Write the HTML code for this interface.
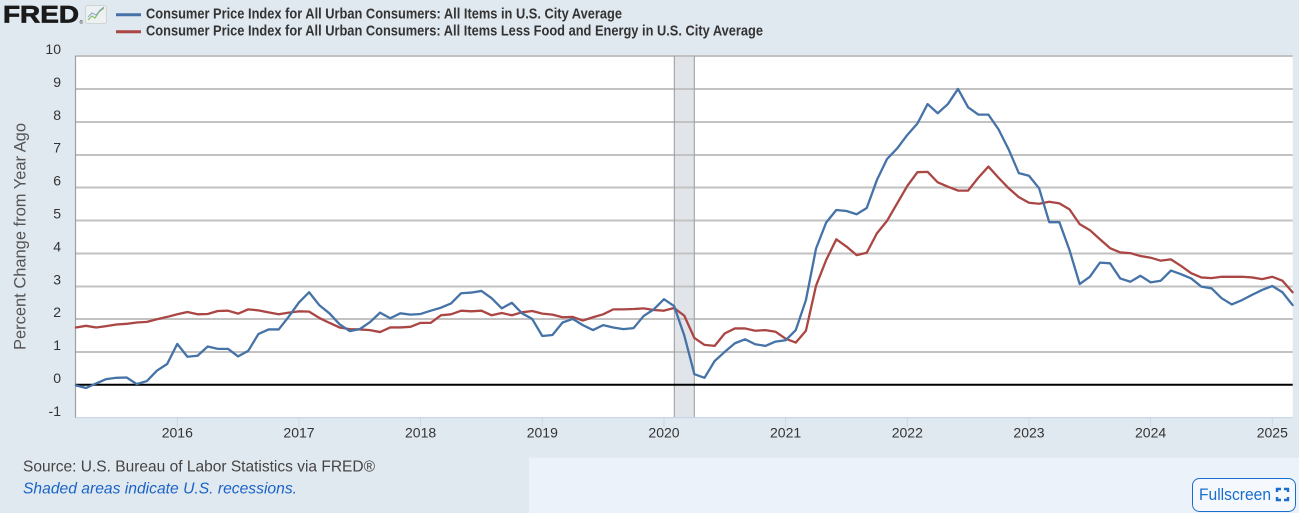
<!DOCTYPE html>
<html>
<head>
<meta charset="utf-8">
<style>
html,body{margin:0;padding:0;background:#e1e9f0;}
svg{display:block;}
</style>
</head>
<body>
<svg width="1299" height="513" viewBox="0 0 1299 513" xmlns="http://www.w3.org/2000/svg" font-family="'Liberation Sans', sans-serif">
  <rect x="0" y="0" width="1299" height="513" fill="#e1e9f0"/>
  <rect x="529" y="457.7" width="770" height="56" fill="#ebf2fa"/>

  <!-- plot background -->
  <rect x="75.5" y="55.7" width="1217.2" height="361.9" fill="#ffffff"/>

  <!-- recession shade -->
  <rect x="674.3" y="55.7" width="20" height="361.9" fill="#e1e5ea"/>

  <!-- gridlines -->
  <g stroke="#c2c2c2" stroke-width="1.9">
    <line x1="75.5" y1="56" x2="1292.7" y2="56"/>
    <line x1="75.5" y1="89" x2="1292.7" y2="89"/>
    <line x1="75.5" y1="122" x2="1292.7" y2="122"/>
    <line x1="75.5" y1="155" x2="1292.7" y2="155"/>
    <line x1="75.5" y1="187.5" x2="1292.7" y2="187.5"/>
    <line x1="75.5" y1="220.5" x2="1292.7" y2="220.5"/>
    <line x1="75.5" y1="253.5" x2="1292.7" y2="253.5"/>
    <line x1="75.5" y1="286.5" x2="1292.7" y2="286.5"/>
    <line x1="75.5" y1="319" x2="1292.7" y2="319"/>
    <line x1="75.5" y1="352" x2="1292.7" y2="352"/>
  </g>
  <line x1="674.3" y1="55.7" x2="674.3" y2="417.6" stroke="#9a9a9a" stroke-width="1"/>
  <line x1="694.3" y1="55.7" x2="694.3" y2="417.6" stroke="#9a9a9a" stroke-width="1"/>
  <line x1="75.5" y1="417.6" x2="1292.7" y2="417.6" stroke="#ccd6eb" stroke-width="1.2"/>
  <line x1="75.5" y1="55.7" x2="75.5" y2="417.6" stroke="#9aa0a6" stroke-width="1.2"/>

  <!-- zero line -->
  <line x1="75.5" y1="384.7" x2="1292.7" y2="384.7" stroke="#000" stroke-width="2"/>

  <!-- x ticks -->
  <g stroke="#ccd6eb" stroke-width="1">
    <line x1="177.3" y1="417.6" x2="177.3" y2="427"/>
    <line x1="299.0" y1="417.6" x2="299.0" y2="427"/>
    <line x1="420.6" y1="417.6" x2="420.6" y2="427"/>
    <line x1="542.3" y1="417.6" x2="542.3" y2="427"/>
    <line x1="664.0" y1="417.6" x2="664.0" y2="427"/>
    <line x1="785.6" y1="417.6" x2="785.6" y2="427"/>
    <line x1="907.3" y1="417.6" x2="907.3" y2="427"/>
    <line x1="1029.0" y1="417.6" x2="1029.0" y2="427"/>
    <line x1="1150.6" y1="417.6" x2="1150.6" y2="427"/>
    <line x1="1272.3" y1="417.6" x2="1272.3" y2="427"/>
  </g>

  <!-- series -->
  <g transform="matrix(10.139 0 0 -32.9 75.9 384.7)" fill="none" stroke-linejoin="round" stroke-linecap="round">
    <polyline vector-effect="non-scaling-stroke" stroke="#aa4643" stroke-width="2.3" points="0,1.74 1,1.79 2,1.74 3,1.78 4,1.83 5,1.85 6,1.89 7,1.91 8,1.99 9,2.06 10,2.14 11,2.21 12,2.14 13,2.15 14,2.24 15,2.25 16,2.16 17,2.29 18,2.26 19,2.2 20,2.14 21,2.19 22,2.23 23,2.22 24,2.03 25,1.88 26,1.74 27,1.69 28,1.68 29,1.66 30,1.6 31,1.74 32,1.74 33,1.76 34,1.88 35,1.88 36,2.11 37,2.14 38,2.25 39,2.23 40,2.25 41,2.11 42,2.18 43,2.11 44,2.2 45,2.24 46,2.16 47,2.13 48,2.05 49,2.06 50,1.95 51,2.05 52,2.14 53,2.29 54,2.29 55,2.3 56,2.32 57,2.27 58,2.25 59,2.33 60,2.1 61,1.42 62,1.21 63,1.18 64,1.56 65,1.71 66,1.71 67,1.64 68,1.66 69,1.61 70,1.4 71,1.28 72,1.64 73,3.01 74,3.79 75,4.42 76,4.2 77,3.94 78,4.01 79,4.6 80,4.98 81,5.51 82,6.04 83,6.46 84,6.47 85,6.15 86,6.02 87,5.9 88,5.9 89,6.29 90,6.63 91,6.29 92,5.97 93,5.7 94,5.53 95,5.5 96,5.56 97,5.51 98,5.33 99,4.88 100,4.7 101,4.42 102,4.15 103,4.02 104,4.0 105,3.91 106,3.86 107,3.77 108,3.81 109,3.61 110,3.39 111,3.26 112,3.24 113,3.28 114,3.28 115,3.28 116,3.26 117,3.21 118,3.28 119,3.16 120,2.81"/>
    <polyline vector-effect="non-scaling-stroke" stroke="#4572a7" stroke-width="2.3" points="0,-0.02 1,-0.1 2,0.04 3,0.17 4,0.21 5,0.22 6,0.02 7,0.11 8,0.43 9,0.63 10,1.24 11,0.85 12,0.88 13,1.16 14,1.09 15,1.09 16,0.86 17,1.03 18,1.54 19,1.68 20,1.68 21,2.07 22,2.5 23,2.81 24,2.42 25,2.17 26,1.84 27,1.63 28,1.69 29,1.9 30,2.19 31,2.02 32,2.17 33,2.13 34,2.15 35,2.25 36,2.34 37,2.47 38,2.78 39,2.8 40,2.85 41,2.63 42,2.32 43,2.49 44,2.17 45,2.0 46,1.48 47,1.51 48,1.89 49,2.0 50,1.81 51,1.66 52,1.81 53,1.74 54,1.69 55,1.72 56,2.09 57,2.29 58,2.6 59,2.39 60,1.5 61,0.32 62,0.21 63,0.72 64,1.0 65,1.26 66,1.38 67,1.23 68,1.18 69,1.31 70,1.35 71,1.66 72,2.57 73,4.14 74,4.93 75,5.31 76,5.28 77,5.18 78,5.37 79,6.22 80,6.86 81,7.18 82,7.59 83,7.94 84,8.53 85,8.25 86,8.53 87,8.99 88,8.43 89,8.21 90,8.21 91,7.76 92,7.15 93,6.43 94,6.35 95,5.97 96,4.94 97,4.94 98,4.09 99,3.06 100,3.28 101,3.71 102,3.69 103,3.23 104,3.13 105,3.31 106,3.11 107,3.16 108,3.47 109,3.36 110,3.23 111,2.98 112,2.93 113,2.63 114,2.44 115,2.57 116,2.73 117,2.88 118,3.0 119,2.81 120,2.42"/>
  </g>

  <!-- y labels -->
  <g font-size="14" fill="#333" text-anchor="end">
    <text x="61" y="54">10</text>
    <text x="61" y="86.9">9</text>
    <text x="61" y="119.8">8</text>
    <text x="61" y="152.7">7</text>
    <text x="61" y="185.6">6</text>
    <text x="61" y="218.5">5</text>
    <text x="61" y="251.4">4</text>
    <text x="61" y="284.3">3</text>
    <text x="61" y="317.2">2</text>
    <text x="61" y="350.1">1</text>
    <text x="61" y="383">0</text>
    <text x="61" y="415.9">-1</text>
  </g>

  <!-- x labels -->
  <g font-size="14" fill="#333" text-anchor="middle">
    <text x="177.3" y="437.7">2016</text>
    <text x="299.0" y="437.7">2017</text>
    <text x="420.6" y="437.7">2018</text>
    <text x="542.3" y="437.7">2019</text>
    <text x="664.0" y="437.7">2020</text>
    <text x="785.6" y="437.7">2021</text>
    <text x="907.3" y="437.7">2022</text>
    <text x="1029.0" y="437.7">2023</text>
    <text x="1150.6" y="437.7">2024</text>
    <text x="1272.3" y="437.7">2025</text>
  </g>

  <!-- y axis title -->
  <text transform="translate(25.5,236.5) rotate(-90)" text-anchor="middle" font-size="17" fill="#555" textLength="227" lengthAdjust="spacingAndGlyphs">Percent Change from Year Ago</text>

  <!-- FRED logo -->
  <text x="3" y="22.7" font-size="24.5" font-weight="bold" fill="#1a1a1a" stroke="#1a1a1a" stroke-width="0.7" textLength="76" lengthAdjust="spacingAndGlyphs">FRED</text>
  <text x="79.5" y="24" font-size="5" fill="#333">®</text>
  <rect x="85.5" y="5.5" width="21" height="18" rx="2" fill="#eef1f2" stroke="#cfd4d6" stroke-width="1"/>
  <polyline points="88,20 92,16 95,18 99,12 104,8" fill="none" stroke="#8bbf6a" stroke-width="1.2"/>
  <polyline points="88,17 92,13 96,15 100,10 104,7" fill="none" stroke="#8aa6c8" stroke-width="1"/>

  <!-- legend -->
  <line x1="116" y1="14.7" x2="141" y2="14.7" stroke="#4572a7" stroke-width="3"/>
  <line x1="116" y1="31.7" x2="141" y2="31.7" stroke="#aa4643" stroke-width="3"/>
  <text x="146" y="18.5" font-size="15" font-weight="bold" fill="#333" textLength="476" lengthAdjust="spacingAndGlyphs">Consumer Price Index for All Urban Consumers: All Items in U.S. City Average</text>
  <text x="146" y="35.5" font-size="15" font-weight="bold" fill="#333" textLength="617" lengthAdjust="spacingAndGlyphs">Consumer Price Index for All Urban Consumers: All Items Less Food and Energy in U.S. City Average</text>

  <!-- source notes -->
  <text x="23" y="471.7" font-size="16" fill="#444" textLength="352" lengthAdjust="spacingAndGlyphs">Source: U.S. Bureau of Labor Statistics via FRED®</text>
  <text x="23" y="493.5" font-size="16" font-style="italic" fill="#1a63c6" textLength="274" lengthAdjust="spacingAndGlyphs">Shaded areas indicate U.S. recessions.</text>

  <!-- fullscreen button -->
  <rect x="1192.5" y="478.5" width="103" height="33" rx="7" fill="#f5f9fd" stroke="#1a6ecb" stroke-width="1"/>
  <text x="1199" y="500" font-size="17" fill="#1a6ecb" textLength="72" lengthAdjust="spacingAndGlyphs">Fullscreen</text>
  <g fill="none" stroke="#1a6ecb" stroke-width="2.4">
    <polyline points="1277,492 1277,489 1281,489"/>
    <polyline points="1284,489 1288,489 1288,492"/>
    <polyline points="1277,497 1277,500 1281,500"/>
    <polyline points="1284,500 1288,500 1288,497"/>
  </g>
</svg>
</body>
</html>
